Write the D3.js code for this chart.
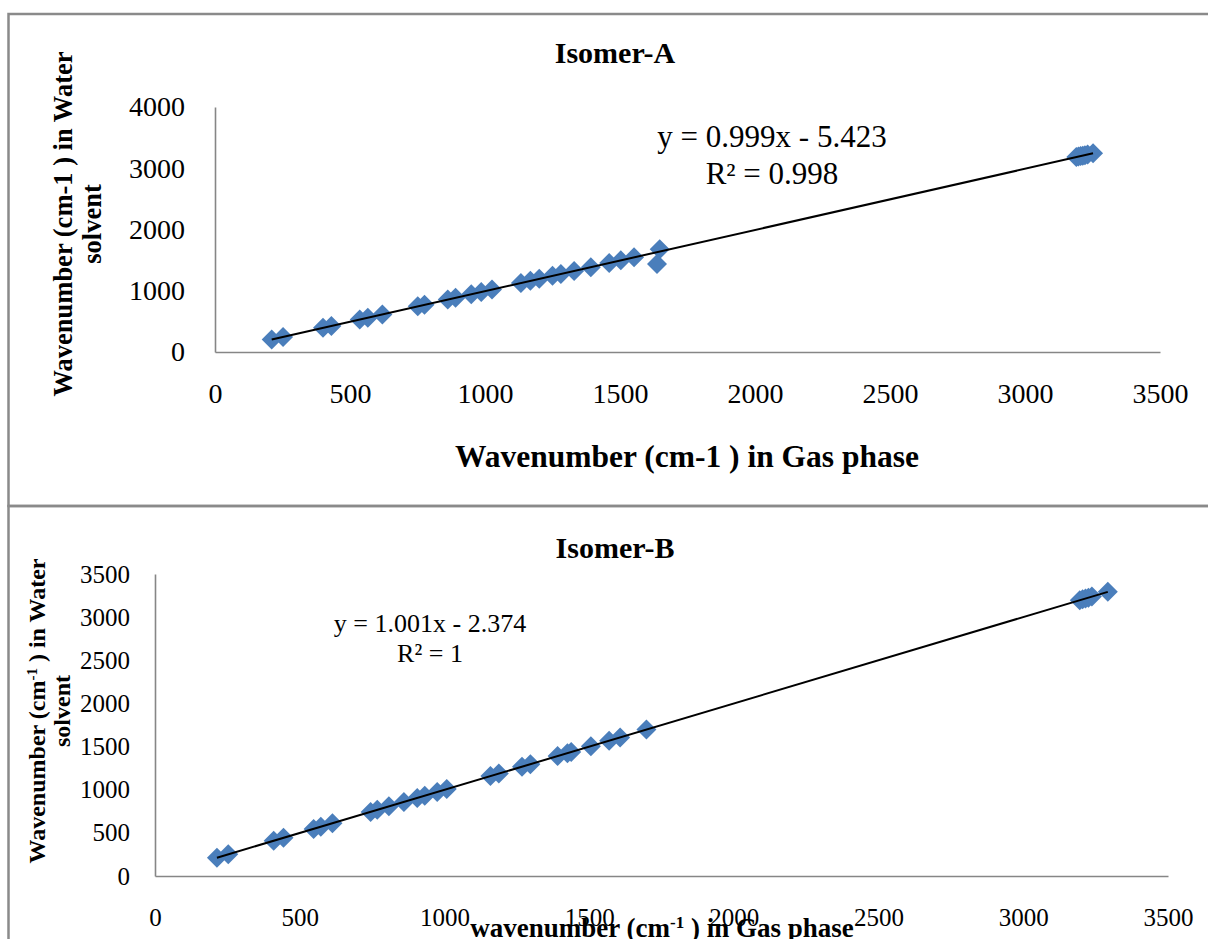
<!DOCTYPE html>
<html>
<head>
<meta charset="utf-8">
<script src="https://cdn.jsdelivr.net/npm/d3@7"></script>
<style>
  html, body { margin: 0; padding: 0; background: #fff; }
  svg { display: block; font-family: "Times New Roman", "Liberation Serif", serif; }
</style>
</head>
<body>
<svg id="chart" width="1208" height="939"></svg>
<script>
// ---------- DATA ----------
const xTicks = [0, 500, 1000, 1500, 2000, 2500, 3000, 3500];
const yTicksA = [0, 1000, 2000, 3000, 4000];
const yTicksB = [0, 500, 1000, 1500, 2000, 2500, 3000, 3500];

// Isomer-A : gas phase vs water solvent wavenumbers (cm-1)
const gasA   = [210, 252, 400, 431, 536, 566, 620, 751, 776, 862, 891, 949, 986, 1026, 1133, 1168, 1201, 1250, 1281, 1330, 1392, 1460, 1503, 1552, 1647, 1637, 3190, 3198, 3206, 3214, 3222, 3232, 3252];
const waterA = [204, 246, 394, 425, 530, 560, 614, 745, 770, 856, 885, 943, 980, 1020, 1127, 1162, 1195, 1244, 1275, 1323, 1385, 1453, 1496, 1545, 1678, 1437, 3182, 3190, 3198, 3206, 3213, 3223, 3243];
const fitA = { slope: 0.999, intercept: -5.423 };
const eqA = ["y = 0.999x - 5.423", "R² = 0.998"];

// Isomer-B
const gasB   = [214, 253, 410, 444, 548, 573, 613, 745, 768, 808, 860, 906, 932, 975, 1008, 1159, 1188, 1268, 1297, 1391, 1425, 1438, 1506, 1569, 1607, 1698, 3195, 3205, 3215, 3225, 3237, 3292];
const waterB = [212, 251, 408, 442, 546, 571, 611, 743, 767, 807, 859, 905, 931, 974, 1007, 1158, 1187, 1267, 1296, 1390, 1424, 1437, 1505, 1568, 1606, 1698, 3196, 3206, 3216, 3226, 3238, 3293];
const fitB = { slope: 1.001, intercept: -2.374 };
const eqB = ["y = 1.001x - 2.374", "R² = 1"];

// ---------- DRAW ----------
const svg = d3.select("#chart");
const AXIS = "#868686", MARK = "#4A7EBB", BORDER = "#8A8A8A";

// outer chart borders
svg.append("rect").attr("x", 8.5).attr("y", 14).attr("width", 1210).attr("height", 492)
  .attr("fill", "none").attr("stroke", BORDER).attr("stroke-width", 2.5);
svg.append("rect").attr("x", 8.5).attr("y", 506).attr("width", 1210).attr("height", 450)
  .attr("fill", "none").attr("stroke", BORDER).attr("stroke-width", 2.5);

function panel(cfg) {
  const x = d3.scaleLinear().domain([0, 3500]).range([cfg.left, cfg.right]);
  const y = d3.scaleLinear().domain([0, cfg.ymax]).range([cfg.bottom, cfg.top]);
  const g = svg.append("g");

  const xa = g.append("g").attr("transform", `translate(0,${cfg.bottom})`)
    .call(d3.axisBottom(x).tickValues(xTicks).tickSize(0).tickSizeOuter(0).tickPadding(cfg.xPad).tickFormat(d3.format("d")));
  const ya = g.append("g").attr("transform", `translate(${cfg.left},0)`)
    .call(d3.axisLeft(y).tickValues(cfg.yTicks).tickSize(0).tickSizeOuter(0).tickPadding(cfg.yPad).tickFormat(d3.format("d")));
  [xa, ya].forEach(a => {
    a.select(".domain").attr("stroke", AXIS).attr("stroke-width", 1.6);
    a.selectAll("text").attr("font-family", "'Times New Roman','Liberation Serif',serif")
      .attr("font-size", cfg.tickFont).attr("fill", "#000");
  });

  // markers
  const pts = cfg.gas.map((v, i) => [v, cfg.water[i]]);
  const sym = d3.symbol().type(d3.symbolSquare).size(cfg.markSize);
  g.append("g").selectAll("path").data(pts).join("path")
    .attr("d", sym)
    .attr("transform", d => `translate(${x(d[0])},${y(d[1])}) rotate(45)`)
    .attr("fill", MARK);

  // trendline
  const x0 = d3.min(cfg.gas), x1 = d3.max(cfg.gas);
  const f = v => cfg.fit.slope * v + cfg.fit.intercept;
  g.append("line")
    .attr("x1", x(x0)).attr("y1", y(f(x0)))
    .attr("x2", x(x1)).attr("y2", y(f(x1)))
    .attr("stroke", "#000").attr("stroke-width", 2);

  // title
  g.append("text").attr("x", cfg.titleX).attr("y", cfg.titleY).attr("text-anchor", "middle")
    .attr("font-weight", "bold").attr("font-size", cfg.titleFont).text(cfg.title);

  // equation
  cfg.eq.forEach((t, i) => {
    g.append("text").attr("x", cfg.eqX).attr("y", cfg.eqY + i * cfg.eqGap)
      .attr("text-anchor", "middle").attr("font-size", cfg.eqFont).text(t);
  });
  return g;
}

function labelText(parent, parts, supSize) {
  parts.forEach(p => {
    if (p.sup) {
      parent.append("tspan").attr("font-size", supSize).attr("baseline-shift", "super").text(p.t);
    } else {
      parent.append("tspan").text(p.t);
    }
  });
}

// Panel A
const gA = panel({
  left: 215, right: 1160, top: 107, bottom: 352, ymax: 4000, yTicks: yTicksA,
  gas: gasA, water: waterA, fit: fitA, eq: eqA,
  tickFont: 28, xPad: 31, yPad: 30, markSize: 200,
  title: "Isomer-A", titleX: 615, titleY: 63, titleFont: 30,
  eqX: 772, eqY: 147, eqGap: 37, eqFont: 31
});
gA.append("text").attr("x", 687).attr("y", 467).attr("text-anchor", "middle")
  .attr("font-weight", "bold").attr("font-size", 31.5).text("Wavenumber (cm-1 ) in Gas phase");
const yA = gA.append("g").attr("transform", "translate(0,224) rotate(-90)");
yA.append("text").attr("x", 0).attr("y", 72).attr("text-anchor", "middle")
  .attr("font-weight", "bold").attr("font-size", 26.5).text("Wavenumber (cm-1 ) in Water");
yA.append("text").attr("x", 0).attr("y", 101).attr("text-anchor", "middle")
  .attr("font-weight", "bold").attr("font-size", 26.5).text("solvent");

// Panel B
const gB = panel({
  left: 155, right: 1168, top: 574, bottom: 876, ymax: 3500, yTicks: yTicksB,
  gas: gasB, water: waterB, fit: fitB, eq: eqB,
  tickFont: 25, xPad: 32, yPad: 25, markSize: 200,
  title: "Isomer-B", titleX: 615, titleY: 558, titleFont: 30,
  eqX: 430, eqY: 632, eqGap: 30, eqFont: 26
});
const xtB = gB.append("text").attr("x", 662).attr("y", 937).attr("text-anchor", "middle")
  .attr("font-weight", "bold").attr("font-size", 27);
labelText(xtB, [{t: "wavenumber (cm"}, {t: "-1", sup: true}, {t: " ) in Gas phase"}], 17);
const yB = gB.append("g").attr("transform", "translate(0,711) rotate(-90)");
const yB1 = yB.append("text").attr("x", 0).attr("y", 45).attr("text-anchor", "middle")
  .attr("font-weight", "bold").attr("font-size", 24);
labelText(yB1, [{t: "Wavenumber (cm"}, {t: "-1", sup: true}, {t: " ) in Water"}], 15);
yB.append("text").attr("x", 0).attr("y", 70).attr("text-anchor", "middle")
  .attr("font-weight", "bold").attr("font-size", 24).text("solvent");
</script>
</body>
</html>
